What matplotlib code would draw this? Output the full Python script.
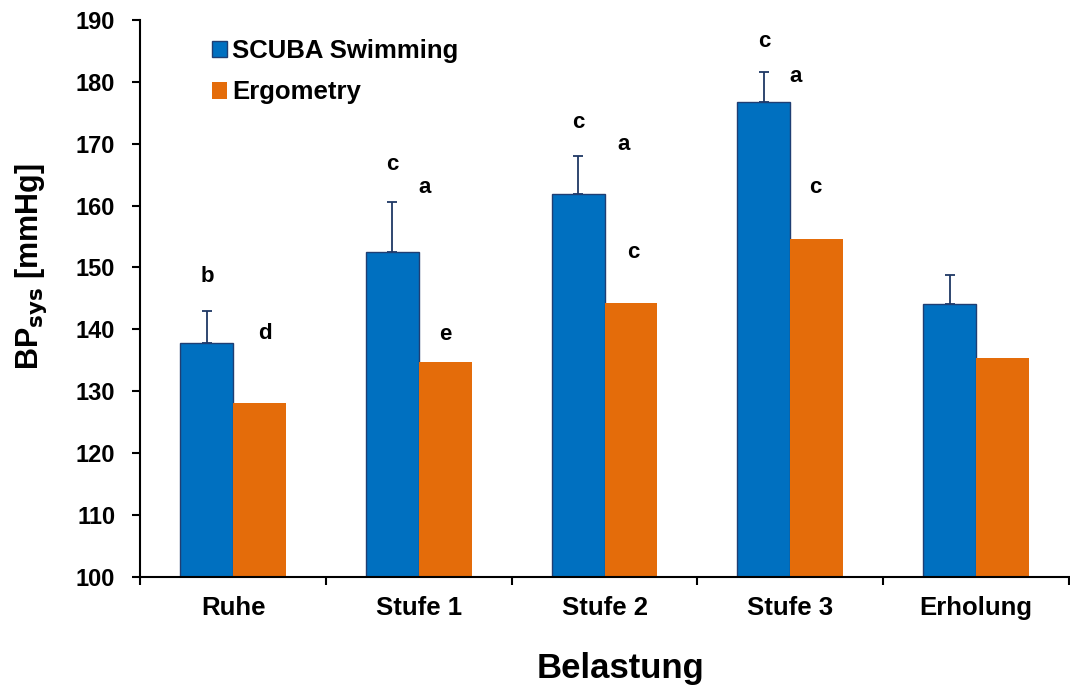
import matplotlib.pyplot as plt
import numpy as np

plt.rcParams['font.family'] = ['Liberation Sans', 'DejaVu Sans']
plt.rcParams['font.weight'] = 'bold'

categories = ['Ruhe', 'Stufe 1', 'Stufe 2', 'Stufe 3', 'Erholung']
scuba = [137.8, 152.5, 161.8, 176.8, 144.1]
scuba_err = [5.2, 8.1, 6.3, 4.8, 4.7]
ergo = [128.1, 134.7, 144.3, 154.6, 135.4]

# significance letters: category index, letter, y value, x offset from category centre
letter_idx = [0, 0, 1, 1, 1, 2, 2, 2, 3, 3, 3]
letter_txt = ['b', 'd', 'c', 'a', 'e', 'c', 'a', 'c', 'c', 'a', 'c']
letter_y = [148.6, 139.3, 166.6, 163.0, 139.1, 173.4, 169.8, 152.4, 186.6, 180.8, 163.0]
letter_dx = [-0.14, 0.17, -0.14, 0.03, 0.145, -0.14, 0.10, 0.155, -0.14, 0.03, 0.135]

x = np.arange(len(categories))
w = 0.285

fig = plt.figure(figsize=(10.7, 6.9), dpi=100)
ax = fig.add_axes([0.131, 0.164, 0.868, 0.807])

ax.bar(x - w/2, scuba, w, color='#0070C0', edgecolor='#1F3E73', linewidth=1,
       label='SCUBA Swimming', zorder=2)
ax.errorbar(x - w/2, scuba, yerr=[np.zeros(len(scuba)), scuba_err], fmt='none',
            ecolor='#1F3864', elinewidth=1.3, capsize=3.5, capthick=1.3, zorder=1)
ax.bar(x + w/2, ergo, w, color='#E46C0A', label='Ergometry', zorder=2)

for i, t, y, dx in zip(letter_idx, letter_txt, letter_y, letter_dx):
    ax.text(x[i] + dx, y, t, ha='center', va='center', fontsize=16, fontweight='bold')

ax.set_xlim(-0.5, len(categories) - 0.5)
ax.set_ylim(100, 190)
ax.set_yticks(np.arange(100, 191, 10))
ax.set_xticks(np.arange(-0.5, len(categories), 1))
ax.set_xticklabels([])
ax.set_xticks(x, minor=True)
ax.set_xticklabels(categories, minor=True)
ax.tick_params(axis='x', which='minor', length=0, pad=14, labelsize=18.5)
ax.tick_params(axis='x', which='major', length=6, width=1.5, direction='out')
ax.tick_params(axis='y', length=6, width=1.5, direction='out', labelsize=17, pad=12)
for s in ['top', 'right']:
    ax.spines[s].set_visible(False)
for s in ['left', 'bottom']:
    ax.spines[s].set_linewidth(1.5)

ax.set_ylabel(r'BP$_{\mathbf{sys}}$ [mmHg]', fontsize=22, fontweight='bold')
ax.yaxis.set_label_coords(-0.098, 0.558)
ax.set_xlabel('Belastung', fontsize=25, fontweight='bold')
ax.xaxis.set_label_coords(0.517, -0.135)

ax.legend(loc='upper left', bbox_to_anchor=(0.066, 0.984), frameon=False, fontsize=18.5,
          handlelength=0.6, handleheight=0.6, handletextpad=0.2, labelspacing=0.67,
          borderaxespad=0)

fig.savefig('out.png', dpi=100)
